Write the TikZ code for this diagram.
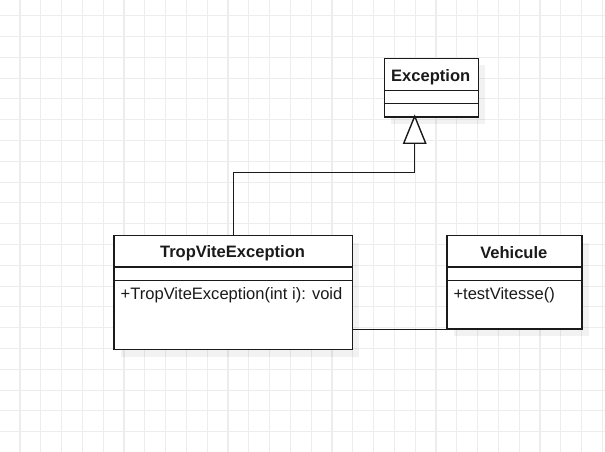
\documentclass[tikz,border=0pt]{standalone}
\usepackage{fontspec}
\setmainfont{Liberation Sans}
\usetikzlibrary{shadows}
\definecolor{gridc}{HTML}{EDEDED}
\definecolor{linec}{HTML}{1A1A1A}
\tikzset{
  gridline/.style={draw=gridc, line width=1.1bp},
  classbox/.style={draw=linec, line width=1.4bp, fill=white, anchor=north west, inner sep=0pt,
    drop shadow={shadow xshift=7bp, shadow yshift=-7bp, fill=black, opacity=0.05}},
  divider/.style={draw=linec, line width=1.4bp},
  titletext/.style={font=\fontsize{16.6}{20}\selectfont\bfseries, text=linec, inner sep=0pt},
  membertext/.style={font=\fontsize{16.6}{20}\selectfont, text=linec, inner sep=0pt, anchor=west},
  conn/.style={draw=linec, line width=1.4bp},
}
\begin{document}
\begin{tikzpicture}[x=1bp, y=-1bp]
\useasboundingbox (0,0) rectangle (605,452);
\fill[white] (0,0) rectangle (605,452);
% grid
\foreach \k in {0,...,28} \draw[gridline] ({20+20.8*\k},0) -- ({20+20.8*\k},452);
\foreach \k in {0,...,20} \draw[gridline] (0,{15.7+20.8*\k}) -- (605,{15.7+20.8*\k});

% Exception
\node[classbox, minimum width=94bp, minimum height=58.6bp] (exc) at (383.7,57.7) {};
\draw[divider] (383.7,90.7) -- (477.7,90.7);
\draw[divider] (383.7,103.3) -- (477.7,103.3);
\node[titletext] (exct) at (430.7,76.8) {Exception};

% TropViteException
\node[classbox, minimum width=238.4bp, minimum height=114bp] (tve) at (113.3,235) {};
\draw[divider] (113.3,267) -- (351.7,267);
\draw[divider] (113.3,280.3) -- (351.7,280.3);
\node[titletext] (tvet) at (232.5,253.5) {TropViteException};
\node[membertext] (tvem) at (120.5,295.2) {+TropViteException(int i): void};

% Vehicule
\node[classbox, minimum width=135bp, minimum height=93.3bp] (veh) at (446.3,235) {};
\draw[divider] (446.3,267) -- (581.3,267);
\draw[divider] (446.3,280.3) -- (581.3,280.3);
\node[titletext] (veht) at (513.8,252.8) {Vehicule};
\node[membertext] (vehm) at (453.3,295.2) {+testVitesse()};

% inheritance
\coordinate (tip) at (414.7,116.3);
\coordinate (base) at (414.7,143.3);
\draw[conn] (tve.north) -- ++(0,-62.7) -| (base);
\draw[conn, fill=white, line join=miter] (tip) -- ([xshift=-11bp]base) -- ([xshift=11bp]base) -- cycle;

% association
\draw[conn] (veh.south west) -- (veh.south west -| tve.east);
\end{tikzpicture}
\end{document}
